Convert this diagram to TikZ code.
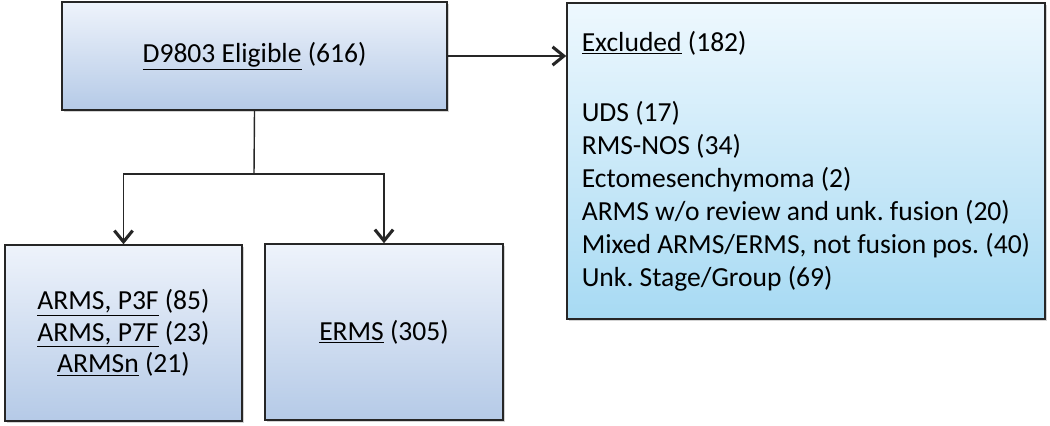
\documentclass[tikz,border=0pt]{standalone}
\usepackage{fontspec}
\setmainfont{Carlito}
\usetikzlibrary{arrows.meta,shadows}

\definecolor{boxtop}{HTML}{EEF3FB}
\definecolor{boxbot}{HTML}{B5CAE7}
\definecolor{excltop}{HTML}{EEF8FE}
\definecolor{exclbot}{HTML}{A7DAF3}

\begin{document}
\frenchspacing
\begin{tikzpicture}[x=0.025cm,y=-0.025cm]
		\useasboundingbox (0,0) rectangle (1050,426);
		\begin{scope}[every node/.style={rectangle,draw=black!85,line width=1pt,
		                                 drop shadow={shadow xshift=1.5pt,shadow yshift=-1.5pt,opacity=.35},
		                                 font=\fontsize{19.6}{23.4}\selectfont,align=center}]
		    \node[top color=boxtop,bottom color=boxbot,minimum width=9.625cm,minimum height=2.7cm]
		        (elig) at (254.5,56) {\underline{D9803 Eligible} (616)};
		    \node[top color=boxtop,bottom color=boxbot,minimum width=5.925cm,minimum height=4.4cm,
		          font=\fontsize{19.6}{22.6}\selectfont]
		        (arms) at (123.5,333) {\underline{ARMS, P3F} (85)\\\underline{ARMS, P7F} (23)\\\underline{ARMSn} (21)};
		    \node[top color=boxtop,bottom color=boxbot,minimum width=5.95cm,minimum height=4.4cm]
		        (erms) at (384,332) {\underline{ERMS} (305)};
		    \node[top color=excltop,bottom color=exclbot,minimum width=11.95cm,minimum height=7.9cm,
		          align=left]
		        (excl) at (806,161) {\underline{Excluded} (182)\\[27pt]
		        UDS (17)\\RMS-NOS (34)\\Ectomesenchymoma (2)\\ARMS w/o review and unk. fusion (20)\\
		        Mixed ARMS/ERMS, not fusion pos. (40)\\Unk. Stage/Group (69)};
		\end{scope}
		
		\coordinate (split) at (254,174);
		\begin{scope}[>={Straight Barb[line width=2.2pt,length=8pt,width=13pt]},
		              every path/.style={draw=black!85,line width=1pt}]
		    	\draw (elig.south) -- (split);
		    	\draw[->] (split) -| (arms.north);
		    	\draw[->] (split) -| (erms.north);
		    	\draw[->] (elig.east) -- (elig.east -| excl.west);
		\end{scope}
\end{tikzpicture}
\end{document}
